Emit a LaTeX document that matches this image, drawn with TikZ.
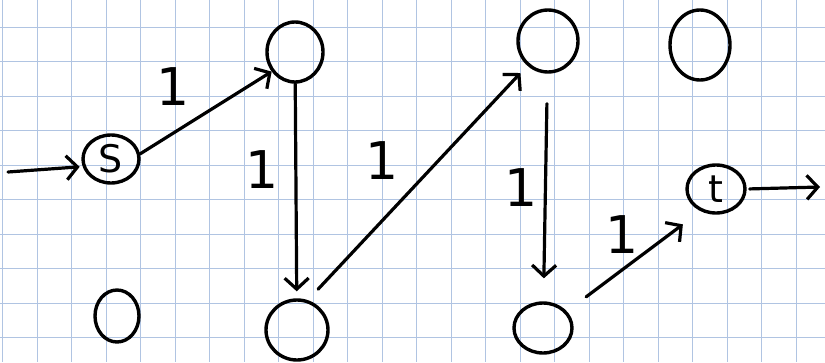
\documentclass[tikz,border=0pt]{standalone}
\usepackage{fontspec}
\setmainfont{DejaVu Sans}
\usetikzlibrary{shapes.geometric,arrows.meta}
\definecolor{gridblue}{RGB}{176,196,226}
\begin{document}
\begin{tikzpicture}[x=1pt,y=-1pt,
  gridline/.style={draw=gridblue,line width=1pt},
  vertex/.style={ellipse,draw,line width=3.4pt,inner sep=0pt,
    font=\fontsize{38}{38}\selectfont},
  edge/.style={line width=3.2pt,line cap=round,
    -{Straight Barb[length=11pt,width=24pt]}},
  weight/.style={font=\fontsize{52}{52}\selectfont,inner sep=0pt},
  ]
  % paper and squared grid
  \fill[white] (0,0) rectangle (825,362);
  \useasboundingbox (0,0) rectangle (825,362);
  \foreach \k in {0,...,23} \draw[gridline] ({2.7+34.5*\k},0) -- ++(0,362);
  \foreach \k in {0,...,9} \draw[gridline] (0,{27.3+34.5*\k}) -- ++(825,0);

  % vertices
  \node[vertex,minimum width=56pt,minimum height=48pt] (s) at (111,159) {S};
  \node[vertex,minimum width=56pt,minimum height=60pt] (a) at (295,52) {};
  \node[vertex,minimum width=62pt,minimum height=60pt] (b) at (297,330) {};
  \node[vertex,minimum width=60pt,minimum height=62pt] (c) at (548,41) {};
  \node[vertex,minimum width=60pt,minimum height=70pt] (d) at (700,45) {};
  \node[vertex,minimum width=58pt,minimum height=50pt] (e) at (543,328) {};
  \node[vertex,minimum width=44pt,minimum height=52pt] (f) at (117,316) {};
  \node[vertex,minimum width=58pt,minimum height=48pt] (t) at (716,189) {t};

  % free ends of the source and sink arrows
  \coordinate (in) at (8,172);
  \coordinate (out) at (820,187);

  % connectors
  \draw[edge,shorten >=3pt] (in) -- (s.195);
  \draw[edge] (s.10) -- (a.220);
  \draw[edge,shorten >=7pt] (a) -- (b);
  \draw[edge,shorten <=15pt,shorten >=10pt] (b.70) -- (c.230);
  \draw[edge,shorten <=30pt,shorten >=23pt] (c) -- (e);
  \draw[edge,shorten <=24pt,shorten >=22pt] (e.35) -- (t.235);
  \draw[edge,shorten <=3pt] (t.east) -- (out);

  % edge weights
  \node[weight] (w1) at (173,87) {1};
  \node[weight] (w2) at (262,170) {1};
  \node[weight] (w3) at (382,161) {1};
  \node[weight] (w4) at (521,188) {1};
  \node[weight] (w5) at (622,235) {1};
\end{tikzpicture}
\end{document}
